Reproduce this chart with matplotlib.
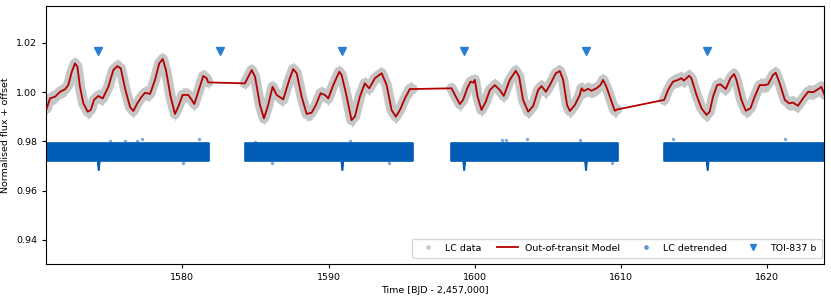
import numpy as np
import matplotlib
matplotlib.use("Agg")
import matplotlib.pyplot as plt
from matplotlib.lines import Line2D

# ---- Out-of-transit model, per TESS segment ----
seg1_t = [1570.73, 1570.95, 1571.30, 1571.64, 1571.98, 1572.20, 1572.44, 1572.66, 1572.82,
          1573.00, 1573.23, 1573.53, 1573.74, 1573.96, 1574.25, 1574.56, 1574.94, 1575.28,
          1575.55, 1575.79, 1576.08, 1576.42, 1576.65, 1576.92, 1577.22, 1577.45, 1577.79,
          1578.13, 1578.42, 1578.66, 1578.88, 1579.20, 1579.50, 1579.72, 1580.02, 1580.41,
          1580.64, 1580.82, 1581.09, 1581.43, 1581.66, 1581.77]
seg1_f = [0.9934, 0.9974, 0.9981, 1.0001, 1.0011, 1.0028, 1.0082, 1.0116, 1.0103,
          1.0021, 0.9954, 0.9920, 0.9927, 0.9968, 0.9984, 0.9974, 1.0021, 1.0089,
          1.0105, 1.0096, 1.0015, 0.9940, 0.9923, 0.9954, 0.9981, 0.9997, 0.9992,
          1.0049, 1.0116, 1.0134, 1.0089, 0.9981, 0.9911, 0.9940, 0.9988, 0.9988,
          0.9968, 0.9951, 1.0001, 1.0065, 1.0056, 1.0039]

seg2_t = [1584.28, 1584.74, 1584.97, 1585.31, 1585.58, 1585.87, 1586.17, 1586.45, 1586.90,
          1587.31, 1587.58, 1587.82, 1588.16, 1588.50, 1588.84, 1589.13, 1589.46, 1589.75,
          1589.98, 1590.32, 1590.73, 1590.89, 1591.19, 1591.57, 1591.80, 1592.14, 1592.48,
          1592.78, 1593.17, 1593.63, 1593.97, 1594.31, 1594.60, 1594.88, 1595.22, 1595.56,
          1595.74]
seg2_f = [1.0035, 1.0089, 1.0062, 0.9947, 0.9893, 0.9947, 1.0021, 0.9988, 0.9970,
          1.0049, 1.0093, 1.0076, 0.9981, 0.9911, 0.9916, 0.9947, 0.9995, 0.9988,
          0.9974, 1.0028, 1.0082, 1.0069, 0.9995, 0.9886, 0.9900, 0.9981, 1.0035,
          1.0015, 1.0056, 1.0076, 1.0028, 0.9927, 0.9900, 0.9927, 0.9974, 1.0012,
          1.0012]

seg3_t = [1598.41, 1598.70, 1598.98, 1599.20, 1599.48, 1599.71, 1599.89, 1600.00, 1600.19,
          1600.46, 1600.75, 1601.03, 1601.37, 1601.71, 1601.98, 1602.39, 1602.80, 1603.03,
          1603.30, 1603.65, 1603.99, 1604.33, 1604.56, 1604.86, 1605.13, 1605.54, 1605.81,
          1606.04, 1606.31, 1606.50, 1606.84, 1607.18, 1607.30, 1607.45, 1607.75, 1607.98,
          1608.32, 1608.59, 1608.77, 1609.00, 1609.35, 1609.57, 1609.73]
seg3_f = [1.0015, 0.9981, 0.9951, 0.9968, 1.0015, 1.0042, 1.0038, 1.0049, 0.9981,
          0.9927, 0.9961, 1.0008, 1.0028, 1.0008, 0.9984, 1.0049, 1.0086, 1.0062,
          0.9968, 0.9920, 0.9943, 1.0008, 1.0024, 1.0001, 1.0028, 1.0076, 1.0085,
          1.0049, 0.9947, 0.9923, 0.9947, 0.9988, 1.0015, 1.0004, 1.0013, 1.0005,
          1.0015, 1.0028, 1.0049, 1.0021, 0.9961, 0.9924, 0.9929]

seg4_t = [1612.95, 1613.21, 1613.55, 1613.90, 1614.13, 1614.29, 1614.65, 1614.81, 1615.16,
          1615.50, 1615.84, 1616.06, 1616.29, 1616.57, 1616.80, 1617.16, 1617.48, 1617.73,
          1617.89, 1618.23, 1618.53, 1618.85, 1619.14, 1619.48, 1619.83, 1620.05, 1620.39,
          1620.58, 1620.85, 1621.20, 1621.49, 1621.76, 1622.10, 1622.44, 1622.79, 1623.13,
          1623.47, 1623.70, 1623.90]
seg4_f = [0.9968, 1.0008, 1.0042, 1.0049, 1.0056, 1.0046, 1.0066, 1.0056, 0.9988,
          0.9934, 0.9907, 0.9920, 0.9981, 1.0028, 1.0031, 1.0012, 1.0056, 1.0073,
          1.0049, 0.9968, 0.9924, 0.9934, 0.9981, 1.0028, 1.0028, 1.0031, 1.0069,
          1.0078, 1.0035, 0.9968, 0.9954, 0.9957, 0.9944, 0.9974, 1.0001, 0.9999,
          1.0011, 1.0021, 0.9990]

# ---- Detrended light curve: segment extents and flux band ----
seg_start = [1570.72, 1584.28, 1598.34, 1612.94]
seg_end = [1581.82, 1595.76, 1609.80, 1623.95]
detr_low = 0.9722
detr_high = 0.9793
transit_depth_low = 0.9684
# a few outlying detrended points
out_t = [1575.05, 1576.08, 1576.88, 1577.22, 1581.16, 1580.06, 1586.11, 1591.46, 1594.15,
         1584.97, 1601.83, 1602.12, 1603.58, 1607.18, 1609.41, 1613.55, 1621.19]
out_f = [0.9803, 0.9801, 0.9803, 0.9808, 0.9809, 0.9711, 0.9711, 0.9801, 0.9711,
         0.9798, 0.9805, 0.9805, 0.9809, 0.9805, 0.9713, 0.9808, 0.9808]

# ---- TOI-837 b transit times ----
transit_t = [1574.25, 1582.58, 1590.91, 1599.24, 1607.57, 1615.89]
transit_mark = 1.0166

gray = "#c6c6c6"
red = "#b40000"
blue = "#005bb5"
tri = "#2b7fd3"

fig = plt.figure(figsize=(8.31, 2.99), dpi=100)
ax = fig.add_axes([0.0554, 0.1171, 0.9362, 0.8628])
fs = 6.8

segs_t = [seg1_t, seg2_t, seg3_t, seg4_t]
segs_f = [seg1_f, seg2_f, seg3_f, seg4_f]

# gray LC data band
for t, f in zip(segs_t, segs_f):
    t = np.asarray(t); f = np.asarray(f)
    ax.fill_between(t, f - 0.0029, f + 0.0029, color=gray, lw=0, zorder=1)
    ax.plot(t, f, color=gray, lw=7.5, solid_capstyle="round",
            solid_joinstyle="round", zorder=1)

# model line (continuous across gaps)
all_t = np.concatenate([np.asarray(s) for s in segs_t])
all_f = np.concatenate([np.asarray(s) for s in segs_f])
ax.plot(all_t, all_f, color=red, lw=1.3, zorder=3)

# detrended band
for s, e in zip(seg_start, seg_end):
    ax.fill_between([s, e], [detr_low, detr_low], [detr_high, detr_high],
                    color=blue, lw=1.2, edgecolor=blue, zorder=2)
for tt in transit_t:
    inside = any(s <= tt <= e for s, e in zip(seg_start, seg_end))
    if inside:
        ax.fill_between([tt - 0.09, tt - 0.03, tt + 0.03, tt + 0.09],
                        [detr_low, transit_depth_low, transit_depth_low, detr_low],
                        [detr_low + 0.001] * 4, color=blue, lw=0.8,
                        edgecolor=blue, zorder=2)
ax.scatter(out_t, out_f, s=6, color=blue, alpha=0.5, lw=0, zorder=2)

# transit markers
ax.plot(transit_t, [transit_mark] * len(transit_t), ls="", marker="v",
        ms=5.5, color=tri, zorder=4)

ax.set_xlim(1570.68, 1623.88)
ax.set_ylim(0.9302, 1.0349)
ax.set_xticks([1580, 1590, 1600, 1610, 1620])
ax.set_yticks([0.94, 0.96, 0.98, 1.00, 1.02])
ax.tick_params(labelsize=fs, length=3)
ax.set_xlabel("Time [BJD - 2,457,000]", fontsize=fs, labelpad=3)
ax.set_ylabel("Normalised flux + offset", fontsize=fs, labelpad=4)

handles = [
    Line2D([], [], ls="", marker="o", ms=2.5, color=gray, alpha=0.8),
    Line2D([], [], color=red, lw=1.3),
    Line2D([], [], ls="", marker="o", ms=2.5, color=blue, alpha=0.5),
    Line2D([], [], ls="", marker="v", ms=5, color=tri),
]
labels = ["LC data", "Out-of-transit Model", "LC detrended", "TOI-837 b"]
ax.legend(handles, labels, loc="lower right", ncol=4, fontsize=fs,
          frameon=True, borderpad=0.55, columnspacing=1.7, handletextpad=0.7,
          handlelength=2.2, borderaxespad=0.0,
          bbox_to_anchor=(1 - 2 / 778, 6 / 258), fancybox=True)

fig.savefig("out.png", dpi=100)
